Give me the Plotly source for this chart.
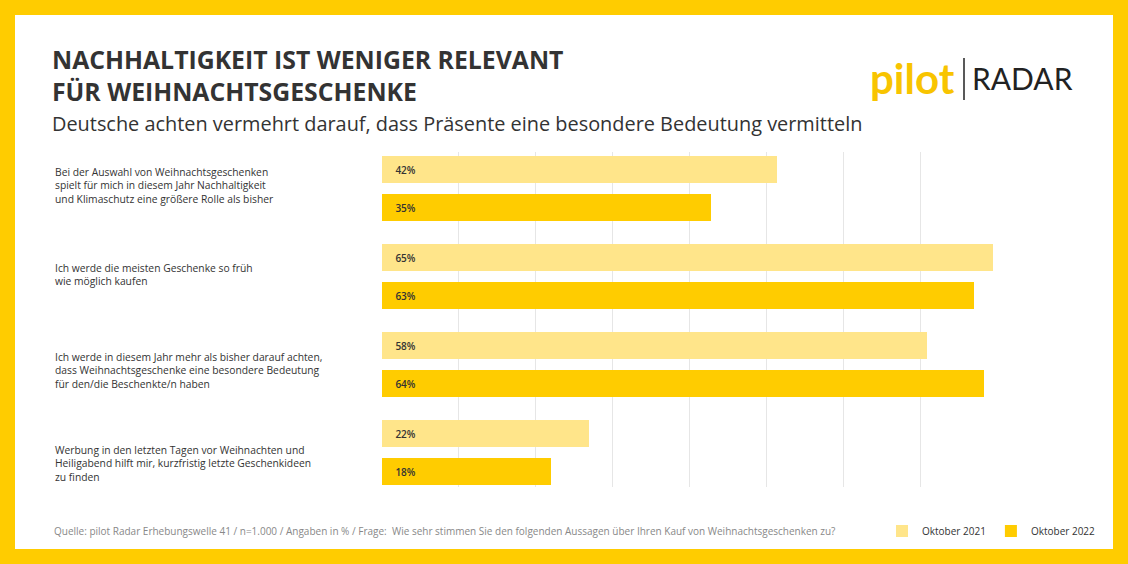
import plotly.graph_objects as go

statements = [
    "Bei der Auswahl von Weihnachtsgeschenken<br>spielt für mich in diesem Jahr Nachhaltigkeit<br>und Klimaschutz eine größere Rolle als bisher",
    "Ich werde die meisten Geschenke so früh<br>wie möglich kaufen",
    "Ich werde in diesem Jahr mehr als bisher darauf achten,<br>dass Weihnachtsgeschenke eine besondere Bedeutung<br>für den/die Beschenkte/n haben",
    "Werbung in den letzten Tagen vor Weihnachten und<br>Heiligabend hilft mir, kurzfristig letzte Geschenkideen<br>zu finden",
]
series_names = ["Oktober 2021", "Oktober 2022"]
values_2021 = [42, 65, 58, 22]
values_2022 = [35, 63, 64, 18]
colors = ["#FFE58A", "#FFCC00"]

W, H = 1128, 564
L, R, T, B = 382, 997, 152, 487
def px(xp): return (xp - L) / (R - L)
def py(yp): return (B - yp) / (B - T)

fig = go.Figure()
for s, (name, vals) in enumerate(zip(series_names, [values_2021, values_2022])):
    ys = [169 + g * 88 + s * 38 for g in range(len(vals))]
    fig.add_trace(go.Bar(
        x=vals, y=ys, orientation="h", name=name, width=27,
        marker=dict(color=colors[s], line=dict(width=0)),
        text=[f"\u00a0\u00a0\u00a0\u00a0{v}%" for v in vals], textposition="inside",
        insidetextanchor="start",
        textfont=dict(family="Open Sans", size=10, color="#333", weight=600),
    ))

label_y = [185, 274, 370, 463]
ann = []
for st, yy in zip(statements, label_y):
    ann.append(dict(x=px(53), y=py(yy), xref="paper", yref="paper", text=st,
                    showarrow=False, xanchor="left", yanchor="middle", align="left",
                    font=dict(family="Open Sans", size=10.3, color="#333")))
ann += [
    dict(x=px(50), y=py(75), xref="paper", yref="paper",
         text="<b>NACHHALTIGKEIT IST WENIGER RELEVANT<br>FÜR WEIHNACHTSGESCHENKE</b>",
         showarrow=False, xanchor="left", yanchor="middle", align="left",
         font=dict(family="Open Sans", size=24.8, color="#333")),
    dict(x=px(50), y=py(123), xref="paper", yref="paper",
         text="Deutsche achten vermehrt darauf, dass Präsente eine besondere Bedeutung vermitteln",
         showarrow=False, xanchor="left", yanchor="middle",
         font=dict(family="Open Sans", size=19.9, color="#333")),
    dict(x=px(52), y=py(531), xref="paper", yref="paper",
         text="Quelle: pilot Radar Erhebungswelle 41 / n=1.000 / Angaben in % / Frage:  Wie sehr stimmen Sie den folgenden Aussagen über Ihren Kauf von Weihnachtsgeschenken zu?",
         showarrow=False, xanchor="left", yanchor="middle",
         font=dict(family="Open Sans", size=10, color="#888")),
    dict(x=px(957), y=py(78), xref="paper", yref="paper", text="<b>pilot</b>",
         showarrow=False, xanchor="right", yanchor="middle",
         font=dict(family="Lato", size=42, color="#F8C400")),
    dict(x=px(970), y=py(78), xref="paper", yref="paper", text="RADAR",
         showarrow=False, xanchor="left", yanchor="middle",
         font=dict(family="Lato", size=30, color="#222")),
]

shapes = [
    dict(type="rect", xref="paper", yref="paper", x0=px(15), x1=px(1113), y0=py(549), y1=py(15),
         fillcolor="white", line=dict(width=0), layer="below"),
    dict(type="line", xref="paper", yref="paper", x0=px(964), x1=px(964), y0=py(100), y1=py(58),
         line=dict(color="#222", width=1.5)),
]

xmax = 65.4
fig.update_layout(
    width=W, height=H, margin=dict(l=L, r=W - R, t=T, b=H - B),
    paper_bgcolor="#FFCC00", plot_bgcolor="rgba(0,0,0,0)",
    barmode="overlay", bargap=0,
    xaxis=dict(range=[0, xmax], tickvals=[xmax * i / 8 for i in range(1, 9)],
               showticklabels=False, showgrid=True, gridcolor="#E6E6E6", zeroline=False),
    yaxis=dict(range=[B, T], showticklabels=False, showgrid=False, zeroline=False),
    legend=dict(orientation="h", x=px(882), y=py(531), xanchor="left", yanchor="middle",
                font=dict(family="Open Sans", size=10, color="#333"), bgcolor="rgba(0,0,0,0)",
                itemwidth=30),
    annotations=ann, shapes=shapes, showlegend=True,
)
fig.write_html("out.html", config={"displayModeBar": False})
with open("out.html", encoding="utf-8") as f:
    html = f.read()
html = html.replace("<head>", "<head><style>html,body{margin:0;padding:0;overflow:hidden}</style>", 1)
with open("out.html", "w", encoding="utf-8") as f:
    f.write(html)
